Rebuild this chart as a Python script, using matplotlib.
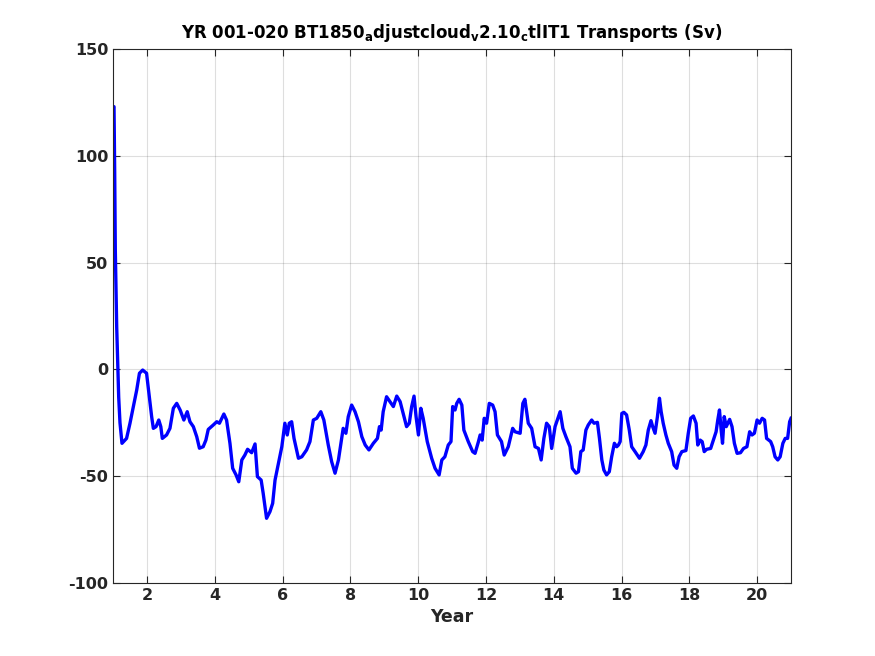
import matplotlib
matplotlib.use("Agg")
import matplotlib.pyplot as plt

plt.rcParams['font.family'] = ['DejaVu Sans']
plt.rcParams['font.weight'] = 'bold'
plt.rcParams['mathtext.fontset'] = 'dejavusans'
plt.rcParams['mathtext.default'] = 'bf'
plt.rcParams['axes.unicode_minus'] = False

title_text = r"YR 001-020 BT1850$_a$djustcloud$_v$2.10$_c$tlIT1 Transports (Sv)"
xlabel_text = "Year"

years = [1.0, 1.03, 1.05, 1.068, 1.109, 1.139, 1.168, 1.206, 1.265, 1.40, 1.50, 1.60, 1.70, 1.78, 1.876, 1.99,
         2.07, 2.14, 2.19, 2.27, 2.35, 2.41, 2.455, 2.58, 2.68, 2.78, 2.88, 2.98, 3.09, 3.19, 3.27, 3.37, 3.47,
         3.55, 3.66, 3.74, 3.81, 3.96, 4.06, 4.14, 4.27, 4.35, 4.45, 4.53, 4.63, 4.71, 4.80, 4.89, 4.97, 5.09,
         5.19, 5.26, 5.37, 5.43, 5.53, 5.63, 5.71, 5.78, 5.88, 5.98, 6.07, 6.14, 6.20, 6.27, 6.34, 6.47, 6.57,
         6.71, 6.81, 6.91, 7.01, 7.13, 7.22, 7.35, 7.45, 7.55, 7.65, 7.79, 7.87, 7.94, 8.04, 8.14, 8.24, 8.34,
         8.44, 8.55, 8.68, 8.80, 8.86, 8.91, 8.97, 9.07, 9.17, 9.27, 9.37, 9.47, 9.56, 9.66, 9.74, 9.81, 9.88,
         9.94, 10.01, 10.08, 10.15, 10.27, 10.40, 10.50, 10.62, 10.70, 10.79, 10.89, 10.97, 11.02, 11.09, 11.14,
         11.21, 11.29, 11.35, 11.48, 11.61, 11.68, 11.78, 11.83, 11.89, 11.95, 12.02, 12.10, 12.20, 12.27, 12.34,
         12.46, 12.54, 12.66, 12.79, 12.86, 13.01, 13.09, 13.15, 13.25, 13.35, 13.45, 13.55, 13.63, 13.71, 13.79,
         13.87, 13.94, 14.04, 14.19, 14.27, 14.36, 14.48, 14.55, 14.66, 14.73, 14.80, 14.87, 14.95, 15.02, 15.12,
         15.19, 15.29, 15.35, 15.42, 15.48, 15.56, 15.64, 15.71, 15.79, 15.86, 15.91, 15.96, 16.01, 16.07, 16.15,
         16.23, 16.30, 16.40, 16.53, 16.64, 16.72, 16.79, 16.87, 16.92, 16.99, 17.06, 17.12, 17.17, 17.23, 17.31,
         17.38, 17.48, 17.55, 17.63, 17.70, 17.78, 17.90, 17.97, 18.04, 18.12, 18.20, 18.25, 18.32, 18.38, 18.44,
         18.51, 18.63, 18.71, 18.79, 18.84, 18.89, 18.94, 18.98, 19.03, 19.09, 19.19, 19.26, 19.33, 19.41, 19.51,
         19.60, 19.70, 19.78, 19.85, 19.92, 20.00, 20.07, 20.15, 20.22, 20.28, 20.40, 20.46, 20.53, 20.61, 20.68,
         20.76, 20.83, 20.90, 20.96, 21.00]

transport = [122.5, 123.0, 92.0, 56.0, 20.0, 3.0, -13.0, -25.0, -34.6, -32.3, -25.3, -17.4, -9.6, -1.8, -0.3, -1.8,
             -12.8, -22.1, -27.6, -26.8, -23.7, -26.8, -32.3, -30.7, -27.6, -18.2, -15.9, -19.0, -23.7, -19.8, -24.5,
             -26.8, -31.5, -36.9, -36.2, -33.1, -28.1, -26.0, -24.5, -25.2, -20.9, -23.7, -34.6, -46.3, -49.4, -52.6,
             -42.4, -40.1, -37.4, -39.0, -34.9, -50.2, -51.8, -58.0, -69.7, -66.6, -62.7, -51.8, -44.0, -36.2, -25.2,
             -30.7, -25.2, -24.5, -32.3, -41.6, -40.9, -37.7, -33.8, -23.7, -22.9, -19.8, -23.7, -35.4, -43.2, -48.6,
             -42.4, -27.6, -29.9, -22.1, -16.7, -19.8, -24.5, -31.5, -35.4, -37.7, -34.6, -32.3, -26.8, -28.4, -19.8,
             -12.8, -15.1, -17.4, -12.5, -15.1, -20.6, -26.8, -25.2, -17.4, -12.5, -22.1, -30.7, -18.2, -22.9, -33.8,
             -41.6, -46.3, -49.4, -42.4, -40.9, -35.4, -33.8, -17.4, -19.0, -15.9, -14.0, -16.7, -28.4, -33.8, -38.5,
             -39.3, -33.8, -30.7, -33.1, -22.9, -25.2, -15.9, -16.7, -19.8, -30.7, -33.8, -40.1, -36.2, -27.6, -29.2,
             -29.9, -15.9, -14.0, -25.2, -27.6, -36.2, -37.0, -42.4, -32.3, -25.2, -26.8, -37.0, -26.8, -19.8, -27.6,
             -31.5, -36.2, -46.3, -48.6, -47.9, -38.5, -37.7, -28.4, -26.0, -23.7, -25.2, -24.8, -32.3, -42.4, -47.1,
             -49.4, -47.9, -40.9, -34.6, -36.2, -35.4, -33.8, -20.6, -20.1, -21.3, -28.4, -36.2, -38.5, -41.6, -38.5,
             -35.4, -28.4, -24.0, -26.8, -29.9, -22.1, -13.5, -19.8, -25.2, -30.7, -34.6, -38.5, -44.8, -46.3, -40.9,
             -38.5, -38.0, -29.9, -22.9, -21.8, -25.2, -35.4, -33.1, -33.8, -38.5, -37.4, -37.0, -33.1, -29.2, -23.7,
             -19.0, -28.4, -34.6, -22.1, -26.8, -23.4, -26.8, -34.6, -39.3, -39.0, -37.0, -36.2, -29.2, -30.7, -29.9,
             -23.7, -25.2, -22.9, -23.7, -32.3, -33.8, -36.2, -40.9, -42.4, -40.9, -34.6, -32.3, -32.3, -24.5, -22.9]

xticks = [2, 4, 6, 8, 10, 12, 14, 16, 18, 20]
yticks = [-100, -50, 0, 50, 100, 150]

fig = plt.figure(figsize=(8.75, 6.56), dpi=100)
ax = fig.add_axes([113/875, 1 - 583/656, (791 - 113)/875, (583 - 49)/656])

ax.plot(years, transport, color=(0, 0, 1), linewidth=2.4)

ax.set_xlim(1, 21)
ax.set_ylim(-100, 150)
ax.set_xticks(xticks)
ax.set_yticks(yticks)
ax.grid(True, color=(0.15, 0.15, 0.15), alpha=0.15, linewidth=0.8)
ax.set_axisbelow(True)
ax.tick_params(direction='in', top=True, right=True, length=5, width=0.8,
               colors=(0.15, 0.15, 0.15), labelsize=11.5)
for lab in ax.get_xticklabels() + ax.get_yticklabels():
    lab.set_fontweight('bold')
for sp in ax.spines.values():
    sp.set_color((0.15, 0.15, 0.15))
    sp.set_linewidth(0.8)

ax.set_xlabel(xlabel_text, fontsize=12.5, fontweight='bold', color=(0.15, 0.15, 0.15), labelpad=4)
ax.set_title(title_text, fontsize=12, fontweight='bold', color='black', pad=8)

fig.savefig("out.png", dpi=100)
